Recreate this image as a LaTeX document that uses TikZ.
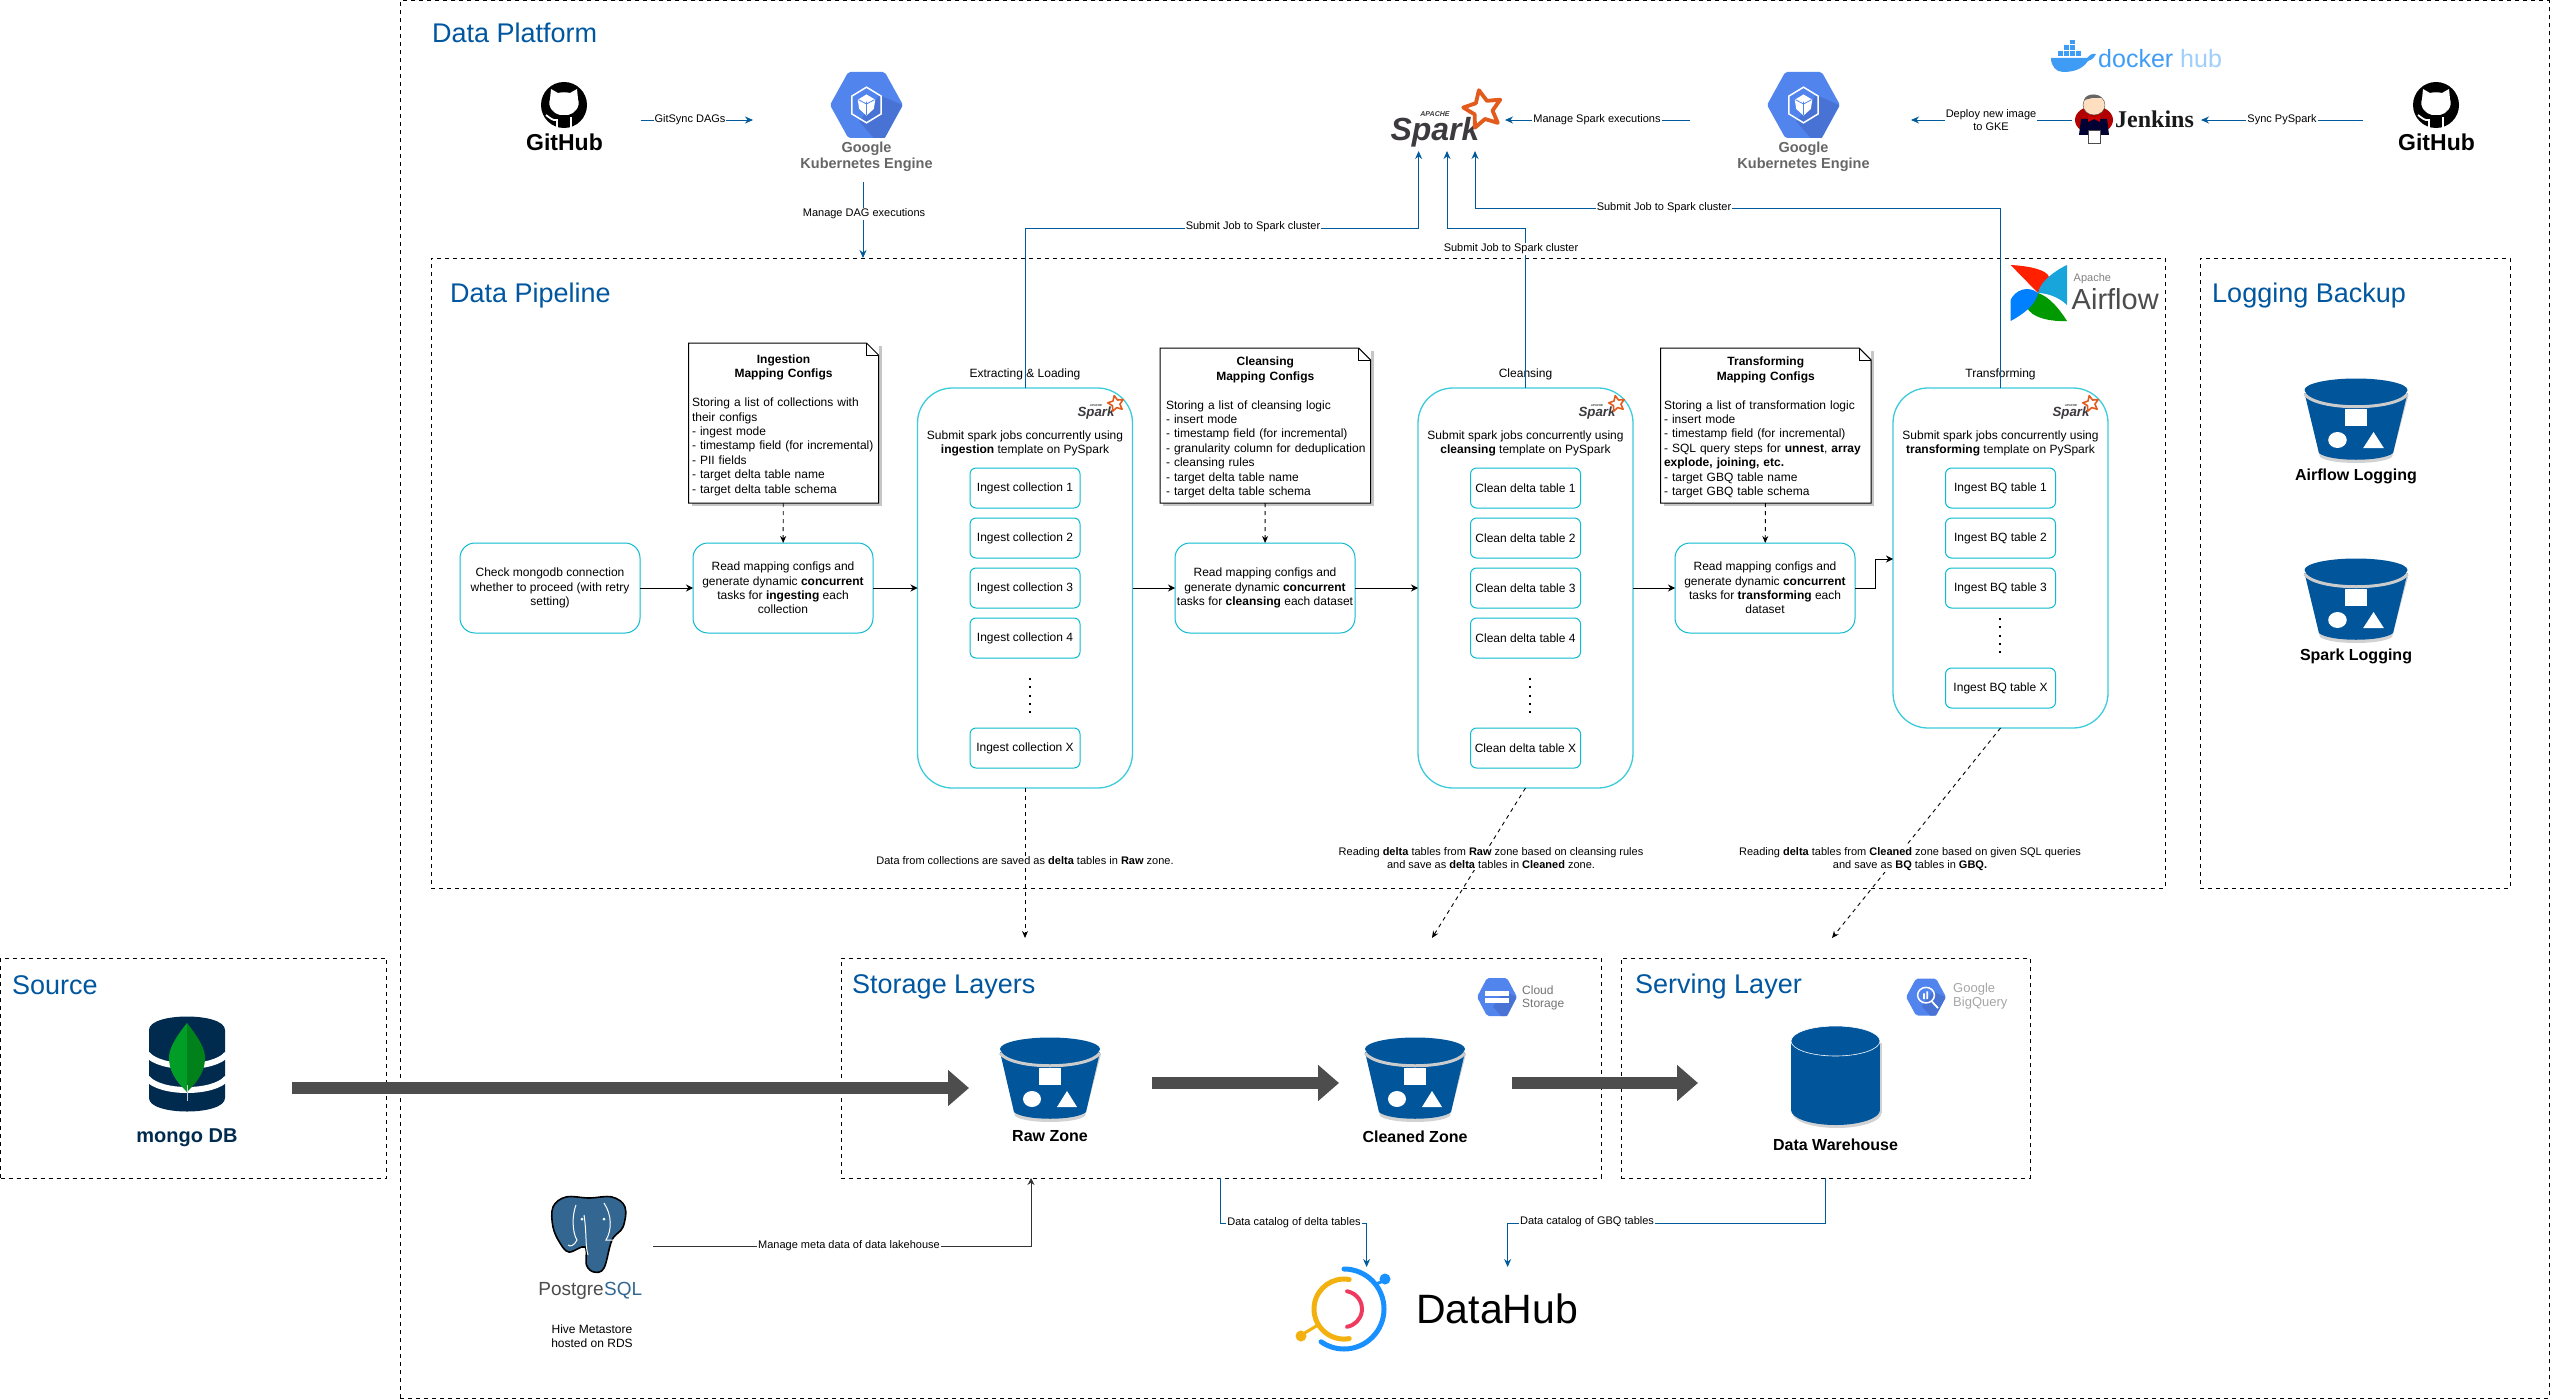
\documentclass[tikz,border=0pt]{standalone}
\usepackage{fontspec}
\setmainfont{Liberation Sans}
\newfontfamily\jenkinsfont{Liberation Serif}
\usetikzlibrary{arrows.meta,backgrounds}

\definecolor{titleblue}{HTML}{00569F}
\definecolor{linkblue}{HTML}{005A9C}
\definecolor{cyanline}{HTML}{0CBBCF}
\definecolor{cyanlight}{HTML}{3CCBDA}
\definecolor{bucketblue}{HTML}{00559B}
\definecolor{flowgrey}{HTML}{4D4D4D}
\definecolor{gcpblue}{HTML}{5184EC}
\definecolor{gcpshade}{HTML}{4873D4}
\definecolor{mongonavy}{HTML}{002B4F}
\definecolor{sparkorange}{HTML}{E25A1C}
\definecolor{sparkgrey}{HTML}{3C3A3E}
\definecolor{dockerblue}{HTML}{3F9CF5}
\definecolor{pgblue}{HTML}{336791}
\definecolor{hubblue}{HTML}{1890FF}
\definecolor{hubyellow}{HTML}{F2B10F}
\definecolor{hubred}{HTML}{EE3A5F}

\newcommand{\fsz}[1]{\fontsize{#1pt}{\dimexpr#1pt*6/5\relax}\selectfont}

\tikzset{
  zonebox/.style={draw=black,line width=1pt,dash pattern=on 4pt off 4pt,anchor=north west,inner sep=0pt,outer sep=0pt},
  zonetitle/.style={anchor=west,text=titleblue,font=\fsz{27},inner sep=0pt},
  stepbox/.style={draw=cyanline,line width=1pt,rounded corners=15pt,minimum width=180pt,minimum height=90pt,align=center,font=\fsz{12},inner sep=1pt,outer sep=0pt},
  groupbox/.style={draw=cyanlight,line width=1.3pt,rounded corners=35pt,minimum width=215pt,outer sep=0pt},
  taskbox/.style={draw=cyanline,line width=1pt,rounded corners=6pt,minimum width=110pt,minimum height=40pt,font=\fsz{12},inner sep=1pt,outer sep=0pt},
  notebox/.style={inner xsep=3.5pt,inner ysep=0pt,outer sep=0pt,align=left,font=\fsz{12}},
  plaintext/.style={font=\fsz{12},align=center,inner sep=1pt},
  edgelabel/.style={fill=white,font=\fsz{11},align=center,inner sep=1pt},
  iconlabel/.style={font=\bfseries\fsz{16},inner sep=0pt},
  linkarrow/.style={draw=linkblue,line width=.9pt,-{Stealth[length=8pt,width=7pt]}},
  stepline/.style={draw=black,line width=1pt,-{Stealth[length=7pt,width=7pt]}},
  dashline/.style={draw=black,line width=.9pt,dash pattern=on 4pt off 4pt,-{Stealth[length=7pt,width=6pt]}},
  dotline/.style={draw=black,line width=2pt,dash pattern=on 2pt off 6.3pt},
  flowline/.style={draw=flowgrey,line width=12pt,-{Triangle[length=21pt,width=35pt]}}
}

\newcommand{\notehead}[2]{\rule{0pt}{13pt}\makebox[\hsize]{\textbf{#1}}\\\makebox[\hsize]{\textbf{#2}}\\[\baselineskip]}

\newcommand{\bucketicon}[3]{
  \begin{scope}[shift={(#1,#2)},xscale=#3]
    \fill[gray!35] (-49,16) -- (-35,78) .. controls (-25,86) and (25,86) .. (35,78) -- (51,16) -- cycle;
    \fill[bucketblue] (-50,14) -- (-36,74) .. controls (-26,83) and (26,83) .. (36,74) -- (50,14) -- cycle;
    \draw[gray!40,line width=3pt] (-50,15) .. controls (-38,32) and (38,32) .. (50,15);
    \fill[bucketblue] (0,11) ellipse [x radius=50,y radius=11.5];
    \fill[white] (-11,30) rectangle (11,47);
    \fill[white] (-18,61) ellipse [x radius=9,y radius=8];
    \fill[white] (17,53) -- (27,69) -- (7,69) -- cycle;
  \end{scope}
}

\newcommand{\gcphex}[5]{
  \begin{scope}[shift={(#1,#2)},x=#3pt,y=-#4pt]
    \fill[gcpblue,rounded corners=2pt] (-.5,-1) -- (.5,-1) -- (1,0) -- (.5,1) -- (-.5,1) -- (-1,0) -- cycle;
    \fill[gcpshade] (.35,-.3) -- (.98,0) -- (.5,1) -- (.2,1) -- (-.2,.5) -- cycle;
    #5
  \end{scope}
}

\newcommand{\kubeglyph}{
  \draw[white,line width=1.5pt] (0,-.54) -- (.4,-.27) -- (.4,.27) -- (0,.54) -- (-.4,.27) -- (-.4,-.27) -- cycle;
  \fill[white] (0,-.32) -- (.24,-.16) -- (.2,.12) -- (0,.32) -- (-.2,.12) -- (-.24,-.16) -- cycle;
  \draw[gcpblue,line width=.8pt] (0,-.1) -- (0,.3) (-.22,-.16) -- (0,-.03) -- (.22,-.16);
}

\newcommand{\githubicon}[3]{
  \begin{scope}[shift={(#2,#3)}]
    \fill[black] (0,0) circle [radius=23];
    \fill[white] (-13,-16) -- (-6,-12) .. controls (-2,-13) and (2,-13) .. (6,-12) -- (13,-16) -- (14,-6) .. controls (17,2) and (10,9) .. (4,10) -- (-4,10) .. controls (-10,9) and (-17,2) .. (-14,-6) -- cycle;
    \draw[white,line width=1.8pt] (-7,23) -- (-7,15) .. controls (-11,16) and (-14,13) .. (-18,10);
    \draw[white,line width=1.8pt] (7,23) -- (7,12);
    \node[font=\bfseries\fsz{23},inner sep=0pt] (#1) at (0.5,37) {GitHub};
  \end{scope}
}

\newcommand{\sparklogo}[4]{
  \begin{scope}[shift={(#2,#3)}]
    \pgfmathsetmacro{\apachesz}{.22*#4}
    \node[font=\bfseries\itshape\fsz{#4},text=sparkgrey,inner sep=0pt] (#1) at (0,0) {Spark};
    \begin{scope}[x=#4pt,y=#4pt,shift={(1.5,.7)},rotate=12]
      \draw[sparkorange,line width=.12*#4pt,line join=round] (18:.62) -- (54:.3) -- (90:.62) -- (126:.3) -- (162:.62) -- (198:.3) -- (234:.62) -- (270:.3) -- (306:.62) -- (342:.3) -- cycle;
    \end{scope}
    \node[font=\bfseries\itshape\fsz{\apachesz},text=sparkgrey,inner sep=0pt] (#1Apache) at (0,-.55*#4) {APACHE};
  \end{scope}
}

\begin{document}
\begin{tikzpicture}[x=1pt,y=-1pt]
  \useasboundingbox (0,0) rectangle (2551,1399);

  \node[zonebox,minimum width=2149pt,minimum height=1397pt] (platformBox) at (400,1) {};
  \node[zonebox,minimum width=1734pt,minimum height=630pt] (pipelineBox) at (431,258) {};
  \node[zonebox,minimum width=310pt,minimum height=630pt] (loggingBox) at (2200,258) {};
  \node[zonebox,minimum width=386pt,minimum height=220pt] (sourceBox) at (0.5,958) {};
  \node[zonebox,minimum width=760pt,minimum height=220pt] (storageBox) at (841,958) {};
  \node[zonebox,minimum width=409pt,minimum height=220pt] (servingBox) at (1621,958) {};

  \node[zonetitle] (platformTitle) at (432,33) {Data Platform};
  \node[zonetitle] (pipelineTitle) at (450,296) {Data Pipeline};
  \node[zonetitle] (loggingTitle) at (2212,296) {Logging Backup};
  \node[zonetitle] (sourceTitle) at (12,985) {Source};
  \node[zonetitle] (storageTitle) at (852,987) {Storage Layers};
  \node[zonetitle] (servingTitle) at (1635,987) {Serving Layer};

  \githubicon{githubLeft}{564}{105}
  \githubicon{githubRight}{2436}{105}

  \gcphex{866.5}{105}{36.5}{33}{\kubeglyph}
  \node[font=\bfseries\fontsize{14.5pt}{16pt}\selectfont,text=black!60,align=center,inner sep=0pt] (gkeLeft) at (866.5,156.5) {Google\\Kubernetes Engine};
  \gcphex{1803.5}{105}{36.5}{33}{\kubeglyph}
  \node[font=\bfseries\fontsize{14.5pt}{16pt}\selectfont,text=black!60,align=center,inner sep=0pt] (gkeRight) at (1803.5,156.5) {Google\\Kubernetes Engine};

  \sparklogo{sparkMain}{1435}{132}{32}

  \fill[dockerblue] (2051,58) -- (2087,58) .. controls (2090,55) and (2092,53) .. (2096,54) .. controls (2093,60) and (2090,60) .. (2088,61) .. controls (2082,70) and (2072,72) .. (2063,72) .. controls (2056,72) and (2051,66) .. (2051,58) -- cycle;
  \foreach \cx in {2058,2064,2070,2076} \fill[dockerblue] (\cx,51) rectangle ++(5,5);
  \foreach \cx in {2064,2070} \fill[dockerblue] (\cx,45) rectangle ++(5,5);
  \fill[dockerblue] (2070,40) rectangle ++(5,4);
  \node[anchor=base west,font=\fsz{25},text=dockerblue,inner sep=0pt] (dockerText) at (2098,68) {docker};
  \node[anchor=base west,font=\fsz{25},text=dockerblue!50,inner sep=0pt] (hubText) at (2180,68) {hub};

  \fill[red!70!black] (2094,120) ellipse [x radius=19,y radius=14];
  \fill[black!80!blue] (2081,119) -- (2107,119) -- (2109,135) -- (2079,135) -- cycle;
  \fill[red!80!black] (2088,115) -- (2094,118) -- (2100,115) -- (2100,122) -- (2094,119) -- (2088,122) -- cycle;
  \filldraw[fill=orange!25,draw=black!70] (2094,105) ellipse [x radius=11,y radius=10];
  \fill[black!60] (2084,100) .. controls (2086,93) and (2098,93) .. (2102,98) -- (2092,98) -- cycle;
  \filldraw[fill=white,draw=black!70] (2088,130) rectangle (2100,143);
  \node[anchor=west,font=\jenkinsfont\bfseries\fsz{24},text=black!90,inner sep=0pt] (jenkinsText) at (2115,119) {Jenkins};

  \fill[red!75!orange] (2010.6,265) .. controls (2030,266) and (2047,270) .. (2049,277) -- (2038,293) -- cycle;
  \fill[cyan!80!teal] (2067,265) .. controls (2060,268) and (2040,280) .. (2038,293) .. controls (2048,293) and (2060,298) .. (2067,305) -- cycle;
  \fill[green!60!black] (2067,321) .. controls (2045,322) and (2025,315) .. (2026,302) -- (2038,293) .. controls (2050,297) and (2060,310) .. (2067,321) -- cycle;
  \fill[blue!50!cyan] (2010.6,321) -- (2010.6,300) .. controls (2015,290) and (2028,285) .. (2038,293) .. controls (2036,305) and (2022,315) .. (2010.6,321) -- cycle;
  \node[anchor=west,font=\fsz{11},text=black!50,inner sep=0pt] (airflowApache) at (2073.5,279) {Apache};
  \node[anchor=west,font=\fsz{29},text=black!70,inner sep=0pt] (airflowText) at (2071.5,299) {Airflow};

  \node[stepbox] (checkStep) at (550,588) {Check mongodb connection\\whether to proceed (with retry\\setting)};
  \node[stepbox] (ingestRead) at (783,588) {Read mapping configs and\\generate dynamic \textbf{concurrent}\\tasks for \textbf{ingesting} each\\collection};
  \node[stepbox] (cleanRead) at (1265,588) {Read mapping configs and\\generate dynamic \textbf{concurrent}\\tasks for \textbf{cleansing} each dataset};
  \node[stepbox] (transRead) at (1765,588) {Read mapping configs and\\generate dynamic \textbf{concurrent}\\tasks for \textbf{transforming} each\\dataset};

  \node[notebox,text width=183pt,minimum height=160pt] (ingestNote) at (783.5,423) {\notehead{Ingestion}{Mapping Configs}Storing a list of collections with\\their configs\\- ingest mode\\- timestamp field (for incremental)\\- PII fields\\- target delta table name\\- target delta table schema};
  \node[notebox,inner xsep=6pt,text width=198.5pt,minimum height=155pt] (cleanNote) at (1265.3,425.5) {\notehead{Cleansing}{Mapping Configs}Storing a list of cleansing logic\\- insert mode\\- timestamp field (for incremental)\\\mbox{- granularity column for deduplication}\\- cleansing rules\\- target delta table name\\- target delta table schema};
  \node[notebox,text width=203.5pt,minimum height=155pt] (transNote) at (1765.8,425.5) {\notehead{Transforming}{Mapping Configs}Storing a list of transformation logic\\- insert mode\\- timestamp field (for incremental)\\- SQL query steps for \textbf{unnest}, \textbf{array}\\\textbf{explode, joining, etc.}\\- target GBQ table name\\- target GBQ table schema};

  \begin{scope}[on background layer]
    \foreach \n in {ingestNote,cleanNote,transNote}
      \fill[gray!45] ([shift={(3,3)}]\n.north west) rectangle ([shift={(3,3)}]\n.south east);
    \foreach \n in {ingestNote,cleanNote,transNote}
      \fill[white] (\n.north west) rectangle (\n.south east);
  \end{scope}
  \foreach \n in {ingestNote,cleanNote,transNote}{
    \draw[black,line width=1pt] (\n.north west) -- ([xshift=-12pt]\n.north east) -- ([yshift=-12pt]\n.north east) -- (\n.south east) -- (\n.south west) -- cycle;
    \draw[black,line width=.7pt] ([xshift=-12pt]\n.north east) -- ([xshift=-12pt,yshift=-12pt]\n.north east) -- ([yshift=-12pt]\n.north east);
  }

  \node[groupbox,minimum height=400pt] (ingestGroup) at (1025,588) {};
  \node[groupbox,minimum height=400pt] (cleanGroup) at (1525.5,588) {};
  \node[groupbox,minimum height=340pt] (transGroup) at (2000.5,558) {};

  \node[plaintext] (ingestCaption) at (1025,374) {Extracting \& Loading};
  \node[plaintext] (cleanCaption) at (1525.5,374) {Cleansing};
  \node[plaintext] (transCaption) at (2000.5,374) {Transforming};

  \sparklogo{sparkIngest}{1096}{413}{13.3}
  \sparklogo{sparkClean}{1597}{413}{13.3}
  \sparklogo{sparkTrans}{2071}{413}{13.3}

  \node[plaintext] (ingestHint) at (1025,443.5) {Submit spark jobs concurrently using\\\textbf{ingestion} template on PySpark};
  \node[plaintext] (cleanHint) at (1525.5,443.5) {Submit spark jobs concurrently using\\\textbf{cleansing} template on PySpark};
  \node[plaintext] (transHint) at (2000.5,443.5) {Submit spark jobs concurrently using\\\textbf{transforming} template on PySpark};

  \foreach \i/\yy in {1/488,2/538,3/588,4/638,X/748}
    \node[taskbox] (ingest\i) at (1025,\yy) {Ingest collection \i};
  \foreach \i/\yy in {1/488,2/538,3/588,4/638,X/748}
    \node[taskbox] (clean\i) at (1525.5,\yy) {Clean delta table \i};
  \foreach \i/\yy in {1/488,2/538,3/588,X/688}
    \node[taskbox] (trans\i) at (2000.5,\yy) {Ingest BQ table \i};
  \draw[dotline] (1030,678) -- (1030,714);
  \draw[dotline] (1530,678) -- (1530,714);
  \draw[dotline] (2000,618) -- (2000,654);

  \draw[stepline] (checkStep) -- (ingestRead);
  \draw[stepline] (ingestRead) -- (ingestGroup);
  \draw[stepline] (ingestGroup) -- (cleanRead);
  \draw[stepline] (cleanRead) -- (cleanGroup);
  \draw[stepline] (cleanGroup) -- (transRead);
  \coordinate (transBend) at (1875,588);
  \coordinate (transIn) at (1893,559);
  \draw[stepline] (transRead.east) -- (transBend) |- (transIn);

  \draw[dashline] (ingestNote) -- (ingestRead);
  \draw[dashline] (cleanNote) -- (cleanRead);
  \draw[dashline] (transNote) -- (transRead);

  \coordinate (gitsyncFrom) at (640.6,120);
  \coordinate (gitsyncTo) at (753,120);
  \coordinate (dagFrom) at (863,182);
  \coordinate (dagTo) at (863,258);
  \coordinate (sparkExecFrom) at (1690,120);
  \coordinate (sparkExecTo) at (1505,120);
  \coordinate (deployFrom) at (2071.5,120);
  \coordinate (deployTo) at (1911,120);
  \coordinate (syncFrom) at (2362.5,120);
  \coordinate (syncTo) at (2201,120);
  \draw[linkarrow] (gitsyncFrom) -- (gitsyncTo);
  \draw[linkarrow] (dagFrom) -- (dagTo);
  \draw[linkarrow] (sparkExecFrom) -- (sparkExecTo);
  \draw[linkarrow] (deployFrom) -- (deployTo);
  \draw[linkarrow] (syncFrom) -- (syncTo);

  \coordinate (sparkInA) at (1418.6,151);
  \coordinate (sparkInB) at (1447,151);
  \coordinate (sparkInC) at (1475,151);
  \coordinate (sparkBendA) at (1418.6,228);
  \coordinate (sparkBendB) at (1447,228);
  \coordinate (sparkBendC) at (1475,208);
  \draw[linkarrow] (ingestGroup.north) |- (sparkBendA) -- (sparkInA);
  \draw[linkarrow] (cleanGroup.north) |- (sparkBendB) -- (sparkInB);
  \draw[linkarrow] (transGroup.north) |- (sparkBendC) -- (sparkInC);

  \node[edgelabel] (gitsyncLabel) at (690,120) {GitSync DAGs};
  \node[edgelabel] (dagLabel) at (864,214) {Manage DAG executions};
  \node[edgelabel] (sparkExecLabel) at (1597,120) {Manage Spark executions};
  \node[edgelabel] (deployLabel) at (1991,120) {Deploy new image\\to GKE};
  \node[edgelabel] (syncLabel) at (2282,120) {Sync PySpark};
  \node[edgelabel] (submitLabelA) at (1253,227) {Submit Job to Spark cluster};
  \node[edgelabel] (submitLabelB) at (1511,249) {Submit Job to Spark cluster};
  \node[edgelabel] (submitLabelC) at (1664,208) {Submit Job to Spark cluster};

  \coordinate (rawIn) at (1025,938);
  \coordinate (cleanedIn) at (1432,938);
  \coordinate (servingIn) at (1832,938);
  \draw[dashline] (ingestGroup.south) -- (rawIn);
  \draw[dashline] (cleanGroup.south) -- (cleanedIn);
  \draw[dashline] (transGroup.south) -- (servingIn);
  \node[edgelabel] (rawSaveLabel) at (1025,861) {Data from collections are saved as \textbf{delta} tables in \textbf{Raw} zone.};
  \node[edgelabel] (cleanSaveLabel) at (1491,858) {Reading \textbf{delta} tables from \textbf{Raw} zone based on cleansing rules\\and save as \textbf{delta} tables in \textbf{Cleaned} zone.};
  \node[edgelabel] (gbqSaveLabel) at (1910,859) {Reading \textbf{delta} tables from \textbf{Cleaned} zone based on given SQL queries\\and save as \textbf{BQ} tables in \textbf{GBQ.}};

  \bucketicon{2356}{379}{1.03}
  \node[iconlabel] (airflowLogging) at (2356,476.5) {Airflow Logging};
  \bucketicon{2356}{559}{1.03}
  \node[iconlabel] (sparkLogging) at (2356,656.5) {Spark Logging};

  \fill[mongonavy] (149,1030) .. controls (149,1012) and (225,1012) .. (225,1030) -- (225,1098) .. controls (225,1116) and (149,1116) .. (149,1098) -- cycle;
  \draw[white,line width=6pt] (147,1054) .. controls (160,1070) and (214,1070) .. (227,1054);
  \draw[white,line width=6pt] (147,1078) .. controls (160,1094) and (214,1094) .. (227,1078);
  \fill[green!55!black!85!cyan] (187,1023) .. controls (175,1038) and (168,1050) .. (169,1060) .. controls (170,1075) and (180,1085) .. (187,1092) -- cycle;
  \fill[green!45!black!90!cyan] (187,1023) .. controls (199,1038) and (206,1050) .. (205,1060) .. controls (204,1075) and (194,1085) .. (187,1092) -- cycle;
  \draw[gray!40,line width=1pt] (187,1085) -- (187,1101);
  \node[font=\bfseries\fsz{20},text=mongonavy,inner sep=0pt] (mongoText) at (187,1138) {mongo DB};

  \bucketicon{1050}{1038}{1}
  \node[iconlabel] (rawZone) at (1050,1136.5) {Raw Zone};
  \bucketicon{1415}{1038}{1}
  \node[iconlabel] (cleanedZone) at (1415,1136.5) {Cleaned Zone};

  \gcphex{1497}{997}{20}{19}{
    \fill[white] (-.62,-.32) rectangle (.62,-.06);
    \fill[white] (-.62,.06) rectangle (.62,.32);
  }
  \node[anchor=west,font=\fontsize{12}{13}\selectfont,text=black!55,align=left,inner sep=0pt] (cloudStorage) at (1522,997.5) {Cloud\\Storage};
  \gcphex{1926}{997}{20}{18.5}{
    \draw[white,line width=1.5pt] (0,-.1) circle [radius=.42];
    \draw[white,line width=1.8pt] (.3,.25) -- (.6,.6);
    \fill[white] (-.14,-.2) rectangle (-.06,.12) (.02,-.3) rectangle (.1,.12);
  }
  \node[anchor=west,font=\fontsize{13}{14}\selectfont,text=black!35,align=left,inner sep=0pt] (bigQuery) at (1953,996) {Google\\BigQuery};

  \fill[gray!35] (1792.5,1043) rectangle (1881.5,1113);
  \fill[gray!35] (1837,1113) ellipse [x radius=44.5,y radius=15];
  \fill[bucketblue] (1791,1041) rectangle (1880,1110);
  \fill[bucketblue] (1835.5,1110) ellipse [x radius=44.5,y radius=15];
  \filldraw[fill=bucketblue,draw=white,line width=.6pt] (1835.5,1041) ellipse [x radius=44.5,y radius=15];
  \node[iconlabel] (dataWarehouse) at (1835.5,1144.5) {Data Warehouse};

  \coordinate (flowStart) at (292,1088);
  \coordinate (flowRaw) at (969,1088);
  \coordinate (flowMidA) at (1152,1083);
  \coordinate (flowCleaned) at (1339,1083);
  \coordinate (flowMidB) at (1512,1083);
  \coordinate (flowServing) at (1698,1083);
  \draw[flowline] (flowStart) -- (flowRaw);
  \draw[flowline] (flowMidA) -- (flowCleaned);
  \draw[flowline] (flowMidB) -- (flowServing);

  \filldraw[fill=pgblue,draw=black,line width=1.6pt] plot[smooth cycle,tension=.6] coordinates {(553,1207) (566,1197) (589,1198) (612,1197) (625,1207) (623,1227) (612,1240) (604,1268) (594,1272) (586.5,1265) (585,1247) (569,1252) (560,1243) (553,1227)};
  \draw[white,line width=1pt] (576,1205) .. controls (572,1215) and (572,1232) .. (577,1240) .. controls (574,1246) and (570,1247) .. (568,1245);
  \draw[white,line width=1pt] (604,1203) .. controls (612,1215) and (612,1230) .. (606,1240) -- (624,1240);
  \draw[white,line width=1pt] (584,1215) .. controls (587,1235) and (585,1245) .. (588,1255);
  \fill[white] (582,1219) circle [radius=1.5] (604,1219) circle [radius=1.5];
  \node[font=\fsz{19},text=black!70,inner sep=0pt,anchor=east] (postgresText) at (604,1291) {Postgre};
  \node[font=\fsz{19},text=pgblue,inner sep=0pt,anchor=west] (sqlText) at (604,1291) {SQL};
  \node[font=\fontsize{12}{14}\selectfont,align=center,inner sep=0pt] (hiveText) at (592,1336) {Hive Metastore\\hosted on RDS};

  \coordinate (metaFrom) at (653,1246);
  \coordinate (metaBend) at (1031,1246);
  \coordinate (metaTo) at (1031,1178);
  \draw[stepline,line width=.9pt,draw=black!80] (metaFrom) -- (metaBend) -- (metaTo);
  \node[edgelabel] (metaLabel) at (849,1246) {Manage meta data of data lakehouse};

  \coordinate (catalogFromA) at (1220.5,1178);
  \coordinate (catalogBendA) at (1366.6,1223);
  \coordinate (catalogToA) at (1366.6,1267);
  \coordinate (catalogFromB) at (1825,1178);
  \coordinate (catalogBendB) at (1507.6,1223);
  \coordinate (catalogToB) at (1507.6,1267);
  \draw[linkarrow] (catalogFromA) |- (catalogBendA) -- (catalogToA);
  \draw[linkarrow] (catalogFromB) |- (catalogBendB) -- (catalogToB);
  \node[edgelabel] (catalogLabelA) at (1294,1223) {Data catalog of delta tables};
  \node[edgelabel] (catalogLabelB) at (1587,1222) {Data catalog of GBQ tables};

  \draw[hubblue,line width=5pt,line cap=round] (1344,1269) arc [start angle=-90,end angle=125,radius=40];
  \draw[hubblue,line width=3pt] (1374,1285) -- (1383,1281);
  \fill[hubblue] (1385,1279) circle [radius=5.5];
  \draw[hubyellow,line width=5pt,line cap=round] (1349.2,1279.5) arc [start angle=-80,end angle=-280,radius=30];
  \draw[hubyellow,line width=3pt] (1318,1325) -- (1303,1334);
  \fill[hubyellow] (1301,1336) circle [radius=5.5];
  \draw[hubred,line width=4pt,line cap=round] (1347.1,1291.3) arc [start angle=-80,end angle=80,radius=18];
  \node[anchor=west,font=\fsz{41},inner sep=0pt] (dataHub) at (1416,1309) {DataHub};
\end{tikzpicture}
\end{document}
